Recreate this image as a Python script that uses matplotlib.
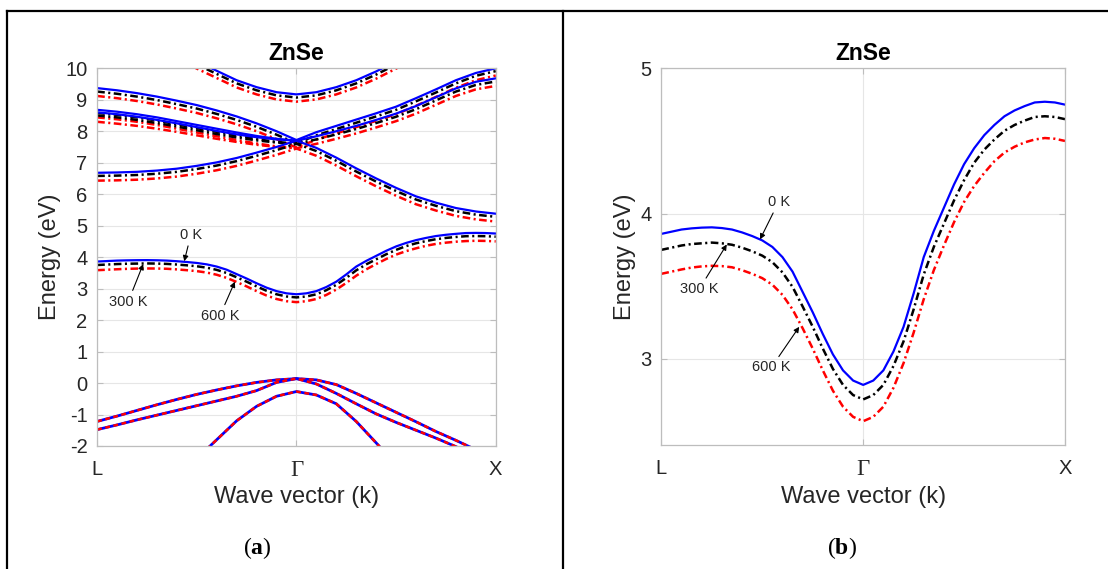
import matplotlib
matplotlib.use("Agg")
import matplotlib.pyplot as plt
from matplotlib.lines import Line2D

plt.rcParams["font.family"] = ["Liberation Sans", "DejaVu Sans"]
plt.rcParams["lines.scale_dashes"] = False
plt.rcParams["axes.unicode_minus"] = False
plt.rcParams["mathtext.fontset"] = "custom"
plt.rcParams["mathtext.rm"] = "Liberation Serif"
plt.rcParams["mathtext.bf"] = "Liberation Serif:bold"

# ---------------- data ----------------
K_LABELS = ["L", "Γ", "X"]
K_TICKS = [0, 1, 2]
TEMPS = ["0 K", "300 K", "600 K"]

# lowest conduction band (fine k grid along L-Γ-X)
K_CB = [0.00, 0.05, 0.10, 0.15, 0.20, 0.25, 0.30, 0.35, 0.40, 0.45, 0.50,
        0.55, 0.60, 0.65, 0.70, 0.75, 0.80, 0.85, 0.90, 0.95, 1.00,
        1.05, 1.10, 1.15, 1.20, 1.25, 1.30, 1.35, 1.40, 1.45, 1.50,
        1.55, 1.60, 1.65, 1.70, 1.75, 1.80, 1.85, 1.90, 1.95, 2.00]
CB_0K = [3.86, 3.875, 3.89, 3.898, 3.903, 3.905, 3.90, 3.89, 3.87, 3.845, 3.815,
         3.77, 3.70, 3.60, 3.46, 3.32, 3.17, 3.03, 2.92, 2.85, 2.82,
         2.85, 2.92, 3.05, 3.22, 3.45, 3.70, 3.88, 4.04, 4.20, 4.34,
         4.45, 4.54, 4.61, 4.67, 4.71, 4.74, 4.765, 4.77, 4.765, 4.75]
CB_300K = [3.75, 3.765, 3.78, 3.79, 3.795, 3.80, 3.795, 3.785, 3.765, 3.74, 3.71,
           3.665, 3.595, 3.495, 3.36, 3.22, 3.07, 2.93, 2.82, 2.75, 2.72,
           2.75, 2.82, 2.95, 3.12, 3.34, 3.58, 3.77, 3.93, 4.09, 4.23,
           4.35, 4.44, 4.51, 4.57, 4.61, 4.64, 4.665, 4.67, 4.665, 4.65]
CB_600K = [3.585, 3.60, 3.615, 3.628, 3.636, 3.64, 3.638, 3.63, 3.61, 3.585, 3.555,
           3.51, 3.44, 3.34, 3.21, 3.07, 2.92, 2.78, 2.67, 2.60, 2.57,
           2.60, 2.67, 2.80, 2.97, 3.18, 3.41, 3.61, 3.78, 3.94, 4.08,
           4.19, 4.28, 4.36, 4.42, 4.46, 4.49, 4.51, 4.52, 4.515, 4.50]

# higher conduction bands
K_BAND = [0.0, 0.1, 0.2, 0.3, 0.4, 0.5, 0.6, 0.7, 0.8, 0.9, 1.0,
          1.1, 1.2, 1.3, 1.4, 1.5, 1.6, 1.7, 1.8, 1.9, 2.0]
BAND_A_0K = [9.37, 9.30, 9.21, 9.10, 8.97, 8.83, 8.66, 8.47, 8.25, 8.00, 7.72,
             7.97, 8.17, 8.37, 8.57, 8.78, 9.05, 9.33, 9.62, 9.85, 10.00]
BAND_A_300K = [9.26, 9.19, 9.10, 8.99, 8.86, 8.72, 8.55, 8.36, 8.14, 7.89, 7.62,
               7.87, 8.07, 8.27, 8.47, 8.68, 8.95, 9.23, 9.52, 9.76, 9.91]
BAND_A_600K = [9.12, 9.05, 8.96, 8.85, 8.72, 8.58, 8.41, 8.22, 8.00, 7.75, 7.48,
               7.73, 7.93, 8.13, 8.33, 8.54, 8.81, 9.09, 9.38, 9.62, 9.77]

BAND_B_0K = [8.68, 8.62, 8.54, 8.44, 8.32, 8.20, 8.08, 7.96, 7.85, 7.76, 7.70,
             7.84, 8.00, 8.17, 8.36, 8.56, 8.80, 9.08, 9.36, 9.57, 9.68]
BAND_B_300K = [8.58, 8.52, 8.44, 8.34, 8.22, 8.10, 7.98, 7.86, 7.75, 7.66, 7.60,
               7.74, 7.90, 8.07, 8.26, 8.46, 8.70, 8.98, 9.26, 9.47, 9.58]
BAND_B_600K = [8.44, 8.38, 8.30, 8.20, 8.08, 7.96, 7.84, 7.72, 7.61, 7.52, 7.46,
               7.60, 7.76, 7.93, 8.12, 8.32, 8.56, 8.84, 9.12, 9.33, 9.44]

K_HALF = [0.0, 0.1, 0.2, 0.3, 0.4, 0.5, 0.6, 0.7, 0.8, 0.9, 1.0]
BAND_B2_0K = [8.60, 8.54, 8.46, 8.36, 8.25, 8.13, 8.01, 7.90, 7.81, 7.74, 7.70]
BAND_B2_300K = [8.50, 8.44, 8.36, 8.26, 8.15, 8.03, 7.91, 7.80, 7.71, 7.64, 7.60]
BAND_B2_600K = [8.30, 8.24, 8.17, 8.08, 7.98, 7.87, 7.76, 7.66, 7.57, 7.50, 7.46]

BAND_C_0K = [6.68, 6.69, 6.71, 6.75, 6.81, 6.90, 7.01, 7.15, 7.32, 7.50, 7.70,
             7.47, 7.16, 6.82, 6.50, 6.20, 5.93, 5.73, 5.56, 5.45, 5.38]
BAND_C_300K = [6.58, 6.59, 6.61, 6.65, 6.71, 6.80, 6.91, 7.05, 7.22, 7.40, 7.60,
               7.37, 7.06, 6.72, 6.40, 6.10, 5.83, 5.63, 5.46, 5.35, 5.28]
BAND_C_600K = [6.43, 6.44, 6.46, 6.50, 6.56, 6.65, 6.76, 6.90, 7.07, 7.25, 7.45,
               7.22, 6.91, 6.57, 6.25, 5.95, 5.68, 5.48, 5.31, 5.20, 5.13]

K_TOP = [0.4, 0.5, 0.6, 0.7, 0.8, 0.9, 1.0, 1.1, 1.2, 1.3, 1.4, 1.5, 1.6]
BAND_TOP_0K = [10.55, 10.22, 9.92, 9.62, 9.40, 9.24, 9.17, 9.24, 9.40, 9.62, 9.90, 10.22, 10.55]
BAND_TOP_300K = [10.45, 10.12, 9.82, 9.52, 9.30, 9.14, 9.07, 9.14, 9.30, 9.52, 9.80, 10.12, 10.45]
BAND_TOP_600K = [10.32, 9.99, 9.69, 9.39, 9.17, 9.01, 8.94, 9.01, 9.17, 9.39, 9.67, 9.99, 10.32]

# valence bands
VB_HEAVY = [-1.22, -1.05, -0.87, -0.69, -0.52, -0.36, -0.22, -0.09, 0.02, 0.10, 0.14,
            0.10, -0.05, -0.33, -0.63, -0.93, -1.23, -1.54, -1.82, -2.12, -2.40]
VB_LIGHT = [-1.48, -1.33, -1.17, -1.02, -0.87, -0.72, -0.57, -0.42, -0.24, 0.02, 0.14,
            -0.03, -0.33, -0.66, -0.98, -1.25, -1.50, -1.75, -2.02, -2.30, -2.60]
K_SO = [0.55, 0.6, 0.7, 0.8, 0.9, 1.0, 1.1, 1.2, 1.3, 1.4, 1.45]
VB_SO = [-2.10, -1.80, -1.20, -0.74, -0.42, -0.27, -0.38, -0.66, -1.22, -1.90, -2.25]

# ---------------- styles ----------------
BLUE = "#0000ff"
RED = "#ff0000"
DASHDOT = (0, (5.5, 2.5, 1.5, 2.5))
STYLE_0K = dict(color=BLUE, lw=1.6, ls="-")
STYLE_300K = dict(color="black", lw=1.8, ls=DASHDOT)
STYLE_600K = dict(color=RED, lw=1.8, ls=DASHDOT)
AX_GREY = "#bdbdbd"
TXT = "#262626"

fig = plt.figure(figsize=(11.08, 5.69), dpi=100)
axL = fig.add_axes([0.0877, 0.2162, 0.3597, 0.6638])
axR = fig.add_axes([0.5969, 0.2179, 0.3643, 0.6620])


def style_axes(ax, yticks, ylim):
    ax.set_xlim(0, 2)
    ax.set_ylim(*ylim)
    ax.set_yticks(yticks)
    ax.set_xticks(K_TICKS)
    ax.set_xticklabels(K_LABELS)
    for s in ax.spines.values():
        s.set_color(AX_GREY)
        s.set_linewidth(0.9)
    ax.tick_params(direction="in", length=4, width=0.8, color=AX_GREY,
                   labelcolor=TXT, labelsize=14.5, right=True, top=True)
    ax.tick_params(axis="x", pad=10)
    ax.tick_params(axis="y", pad=7)
    gamma = ax.xaxis.get_ticklabels()[1]
    gamma.set_fontfamily("Liberation Serif")
    gamma.set_fontsize(16.5)
    ax.grid(True, color="#e6e6e6", lw=0.8)
    ax.set_axisbelow(True)
    ax.set_title("ZnSe", fontweight="bold", fontsize=16.5, pad=6)
    ax.set_xlabel("Wave vector (k)", fontsize=17, color=TXT)
    ax.set_ylabel("Energy (eV)", fontsize=17, color=TXT)
    ax.xaxis.label.set_va("center")
    ax.yaxis.label.set_va("center")


def draw_three(ax, k, e0, e300, e600):
    ax.plot(k, e0, **STYLE_0K)
    ax.plot(k, e300, **STYLE_300K)
    ax.plot(k, e600, **STYLE_600K)


# ---- panel (a): full band structure ----
for kk, b0, b3, b6 in [
    (K_TOP, BAND_TOP_0K, BAND_TOP_300K, BAND_TOP_600K),
    (K_BAND, BAND_A_0K, BAND_A_300K, BAND_A_600K),
    (K_BAND, BAND_B_0K, BAND_B_300K, BAND_B_600K),
    (K_HALF, BAND_B2_0K, BAND_B2_300K, BAND_B2_600K),
    (K_BAND, BAND_C_0K, BAND_C_300K, BAND_C_600K),
    (K_CB, CB_0K, CB_300K, CB_600K),
]:
    draw_three(axL, kk, b0, b3, b6)

for kk, vb in [(K_BAND, VB_HEAVY), (K_BAND, VB_LIGHT), (K_SO, VB_SO)]:
    axL.plot(kk, vb, color=BLUE, lw=2.0, ls="-")
    axL.plot(kk, vb, color=RED, lw=1.8, ls=(0, (3.5, 2.5)))

style_axes(axL, list(range(-2, 11)), (-2, 10))
axL.xaxis.set_label_coords(0.5, -0.135)
axL.yaxis.set_label_coords(-0.118, 0.5)

arrow = dict(arrowstyle="-|>", color="black", lw=0.8, mutation_scale=8,
             shrinkA=1, shrinkB=0)
axL.annotate(TEMPS[0], xy=(0.437, 3.87), xytext=(0.47, 4.71), fontsize=10.5,
             ha="center", va="center", color=TXT, arrowprops=arrow)
axL.annotate(TEMPS[1], xy=(0.231, 3.78), xytext=(0.156, 2.59), fontsize=10.5,
             ha="center", va="center", color=TXT, arrowprops=arrow)
axL.annotate(TEMPS[2], xy=(0.691, 3.22), xytext=(0.616, 2.14), fontsize=10.5,
             ha="center", va="center", color=TXT, arrowprops=arrow)

# ---- panel (b): lowest conduction band ----
draw_three(axR, K_CB, CB_0K, CB_300K, CB_600K)
style_axes(axR, [3, 4, 5], (2.406, 5))
axR.xaxis.set_label_coords(0.5, -0.138)
axR.yaxis.set_label_coords(-0.09, 0.5)

axR.annotate(TEMPS[0], xy=(0.489, 3.822), xytext=(0.581, 4.08), fontsize=10.5,
             ha="center", va="center", color=TXT, arrowprops=arrow)
axR.annotate(TEMPS[1], xy=(0.324, 3.787), xytext=(0.188, 3.48), fontsize=10.5,
             ha="center", va="center", color=TXT, arrowprops=arrow)
axR.annotate(TEMPS[2], xy=(0.683, 3.22), xytext=(0.545, 2.94), fontsize=10.5,
             ha="center", va="center", color=TXT, arrowprops=arrow)

# ---- captions and frame ----
fig.text(257 / 1108, 1 - 548 / 569, r"($\mathbf{a}$)", ha="center", va="center",
         fontsize=17, fontfamily="Liberation Serif")
fig.text(842 / 1108, 1 - 548 / 569, r"($\mathbf{b}$)", ha="center", va="center",
         fontsize=17, fontfamily="Liberation Serif")

top = 1 - 11 / 569
for line in [
    Line2D([7.3 / 1108, 1.0], [top, top]),
    Line2D([7.3 / 1108, 7.3 / 1108], [0, top]),
    Line2D([562.5 / 1108, 562.5 / 1108], [0, top]),
]:
    line.set_transform(fig.transFigure)
    line.set_color("black")
    line.set_linewidth(1.6)
    fig.add_artist(line)

fig.savefig("out.png", dpi=100)
